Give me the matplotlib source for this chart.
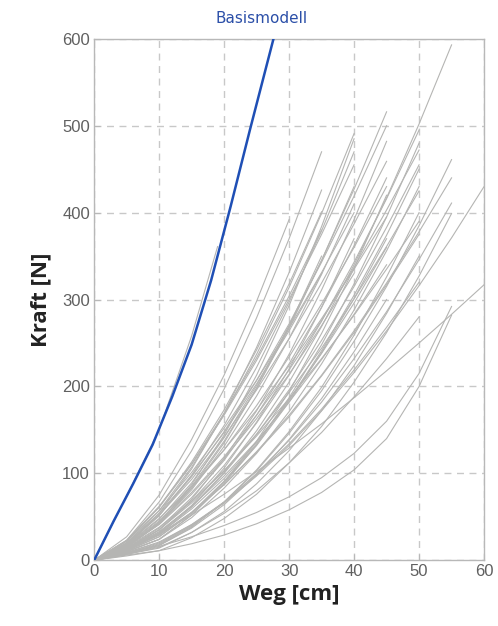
import matplotlib
matplotlib.use("Agg")
import matplotlib.pyplot as plt

# Weg-Raster der grauen Kurven (cm)
X_GRID = [0, 5, 10, 15, 20, 25, 30, 35, 40, 45, 50, 55, 60]

# graue Kurven: Kraft (N) an den Rasterpunkten, jede endet am letzten Wert
GRAY_Y = [
    [0, 27, 75, 139, 213, 298, 392],
    [0, 23, 67, 126, 197, 279, 370, 470],
    [0, 17, 54, 105, 169, 245, 331, 426],
    [0, 22, 61, 113, 173, 242, 318, 401],
    [0, 15, 42, 83, 135, 198, 269, 350],
    [0, 23, 62, 111, 169, 233, 304, 380],
    [0, 20, 54, 97, 147, 203, 264, 330],
    [0, 20, 57, 107, 168, 237, 314, 399, 491],
    [0, 15, 43, 87, 144, 213, 293, 384, 485],
    [0, 22, 61, 110, 167, 230, 300, 375, 455],
    [0, 16, 44, 85, 137, 198, 267, 345, 430],
    [0, 22, 57, 101, 152, 207, 267, 331, 400],
    [0, 12, 31, 63, 106, 159, 220, 291, 370],
    [0, 16, 41, 76, 117, 163, 214, 270, 330],
    [0, 18, 51, 98, 155, 222, 297, 379, 470],
    [0, 15, 42, 81, 131, 189, 255, 329, 410],
    [0, 17, 47, 89, 141, 201, 270, 345, 427, 516],
    [0, 13, 35, 70, 117, 172, 237, 311, 392, 482],
    [0, 19, 52, 93, 142, 196, 255, 319, 387, 459],
    [0, 14, 37, 72, 115, 167, 226, 291, 362, 440],
    [0, 10, 24, 52, 90, 137, 194, 261, 336, 420],
    [0, 18, 48, 85, 127, 173, 224, 278, 335, 395],
    [0, 11, 27, 54, 90, 132, 182, 239, 301, 370],
    [0, 13, 33, 62, 97, 137, 182, 231, 283, 340],
    [0, 8, 17, 37, 64, 98, 139, 186, 240, 300],
    [0, 17, 45, 83, 127, 178, 234, 295, 360, 430],
    [0, 12, 30, 59, 94, 136, 185, 238, 296, 360],
    [0, 19, 52, 96, 148, 207, 272, 343, 419, 500],
    [0, 13, 35, 68, 109, 158, 213, 275, 343, 416, 495],
    [0, 10, 24, 52, 88, 133, 187, 248, 318, 395, 480],
    [0, 16, 42, 78, 119, 167, 219, 276, 337, 403, 472],
    [0, 11, 27, 55, 91, 134, 184, 241, 305, 374, 450],
    [0, 14, 35, 66, 103, 145, 193, 244, 301, 361, 425],
    [0, 8, 17, 38, 67, 104, 148, 199, 259, 326, 400],
    [0, 12, 29, 55, 87, 124, 165, 212, 262, 317, 375],
    [0, 7, 14, 32, 56, 88, 126, 172, 224, 284, 350],
    [0, 9, 21, 41, 67, 99, 134, 174, 219, 268, 320],
    [0, 7, 15, 32, 54, 80, 112, 147, 188, 232, 280],
    [0, 15, 38, 68, 103, 143, 186, 232, 282, 335, 390],
    [0, 13, 32, 62, 100, 145, 196, 253, 315, 383, 455],
    [0, 10, 24, 49, 83, 123, 171, 226, 288, 356, 430],
    [0, 12, 30, 61, 101, 149, 205, 269, 340, 417, 502, 593],
    [0, 8, 18, 39, 67, 103, 146, 195, 252, 315, 385, 461],
    [0, 12, 29, 55, 87, 125, 167, 213, 264, 319, 378, 440],
    [0, 8, 19, 40, 66, 100, 138, 182, 232, 286, 346, 411],
    [0, 6, 11, 26, 48, 76, 112, 154, 205, 262, 327, 399],
    [0, 7, 16, 27, 40, 55, 73, 95, 123, 160, 215, 292],
    [0, 5, 11, 19, 29, 42, 58, 78, 104, 140, 200, 282],
    [0, 9, 20, 41, 66, 97, 132, 172, 216, 264, 316, 371, 430],
    [0, 13, 31, 52, 76, 102, 129, 157, 187, 218, 250, 283, 317],
]

# graue Kurve dicht am Basismodell
NEAR_X = [0, 5, 10, 15, 19]
NEAR_Y = [0, 74, 150, 258, 361]

# Basismodell
BLUE_X = [0, 3, 6, 9, 12, 15, 18, 21, 24, 27.6]
BLUE_Y = [0, 45, 88, 133, 188, 248, 322, 407, 496, 600]

X_TICKS = [0, 10, 20, 30, 40, 50, 60]
Y_TICKS = [0, 100, 200, 300, 400, 500, 600]

fig = plt.figure(figsize=(4.98, 6.26), dpi=100)
ax = fig.add_axes([0.189, 0.105, 0.783, 0.833])

gray = "#b5b5b3"
for ys in GRAY_Y:
    ax.plot(X_GRID[:len(ys)], ys, color=gray, lw=0.8, zorder=2)
ax.plot(NEAR_X, NEAR_Y, color=gray, lw=0.8, zorder=2)
ax.plot(BLUE_X, BLUE_Y, color="#1f4fb5", lw=1.8, zorder=3)

ax.set_xlim(0, 60)
ax.set_ylim(0, 600)
ax.set_xticks(X_TICKS)
ax.set_yticks(Y_TICKS)
ax.grid(True, color="#c8c8c8", ls=(0, (5, 4)), lw=1.0, zorder=1)
for s in ax.spines.values():
    s.set_color("#b8b8b8")
    s.set_linewidth(1.0)
ax.tick_params(direction="in", length=4, color="#b8b8b8", labelsize=12,
               labelcolor="#606060", pad=3)
for lab in ax.get_xticklabels() + ax.get_yticklabels():
    lab.set_family("Liberation Sans")

ax.set_xlabel("Weg [cm]", fontsize=16, fontweight="bold", family="Open Sans",
              color="#222222", labelpad=3)
ax.set_ylabel("Kraft [N]", fontsize=16, fontweight="bold", family="Open Sans",
              color="#222222", labelpad=8)

fig.text(0.526, 0.971, "Basismodell", ha="center", va="center", fontsize=11,
         family="DejaVu Sans", color="#2b4fa8")

fig.savefig("out.png", dpi=100)
